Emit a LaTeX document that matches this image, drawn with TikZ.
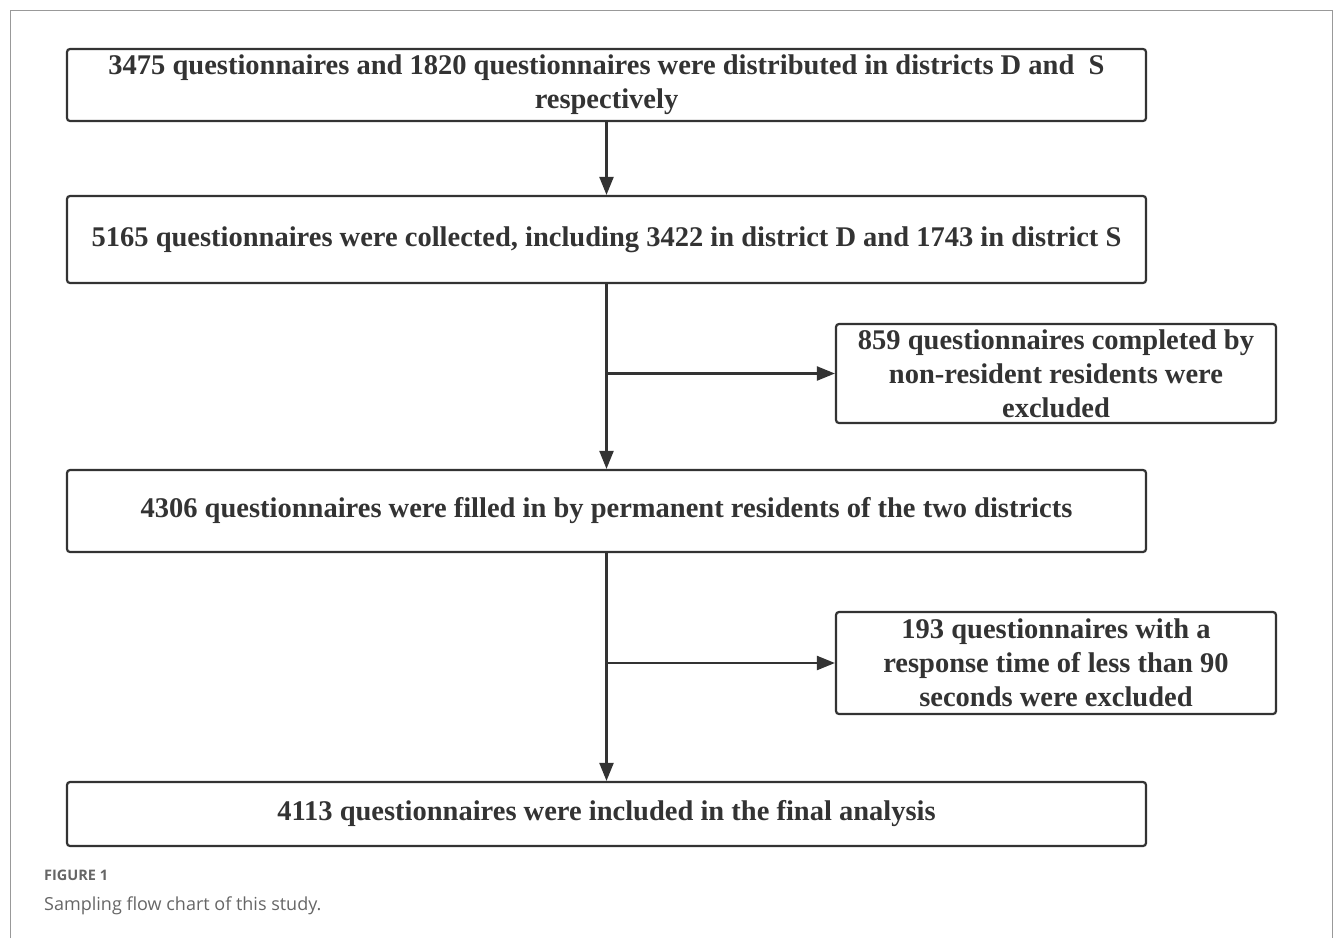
\documentclass[tikz,border=0pt]{standalone}
\usepackage{fontspec}
\setmainfont{Liberation Serif}
\newfontfamily\capfont{Open Sans}
\usetikzlibrary{arrows.meta}

\begin{document}
\begin{tikzpicture}[x=1pt,y=-1pt,
    box/.style={draw=black!80,line width=2.2pt,rounded corners=3pt,align=center,
      inner sep=0pt,font=\fontsize{28.5}{34}\selectfont\bfseries,text=black!80},
    mainbox/.style={box,minimum width=1079pt},
    sidebox/.style={box,minimum width=440pt},
    flow/.style={draw=black!80,line width=2.2pt,-{Triangle[length=18pt,width=14pt]}}]
  \useasboundingbox (0,0) rectangle (1333,938);
  % outer frame
  \draw[black!40,line width=1pt] (10,938) -- (10,10) -- (1332,10) -- (1332,938);
  % main column
  \node[mainbox,minimum height=72pt] (dist) at (606.5,85)
    {3475 questionnaires and 1820 questionnaires were distributed in districts D and~ S\\respectively};
  \node[mainbox,minimum height=87pt] (coll) at (606.5,239.5)
    {5165 questionnaires were collected, including 3422 in district D and 1743 in district S};
  \node[mainbox,minimum height=82pt] (perm) at (606.5,511)
    {4306 questionnaires were filled in by permanent residents of the two districts};
  \node[mainbox,minimum height=64pt] (final) at (606.5,814)
    {4113 questionnaires were included in the final analysis};
  % exclusions
  \node[sidebox,minimum height=99pt] (excl1) at (1056,373.5)
    {859 questionnaires completed by\\non-resident residents were\\excluded};
  \node[sidebox,minimum height=102pt] (excl2) at (1056,663)
    {193 questionnaires with a\\response time of less than 90\\seconds were excluded};
  \coordinate (br1) at (dist.south |- excl1.west);
  \coordinate (br2) at (dist.south |- excl2.west);
  \draw[flow] (dist) -- (coll);
  \draw[flow] (coll) -- (perm);
  \draw[flow] (perm) -- (final);
  \draw[flow] (br1) -- (excl1);
  \draw[flow] (br2) -- (excl2);
  % caption
  \node[anchor=base west,inner sep=0pt,text=black!60,font=\capfont\fontsize{14.5}{18}\selectfont\bfseries] (fig) at (44,880) {FIGURE 1};
  \node[anchor=base west,inner sep=0pt,text=black!60,font=\capfont\fontsize{18}{22}\selectfont] (cap) at (44,910) {Sampling flow chart of this study.};
\end{tikzpicture}
\end{document}
